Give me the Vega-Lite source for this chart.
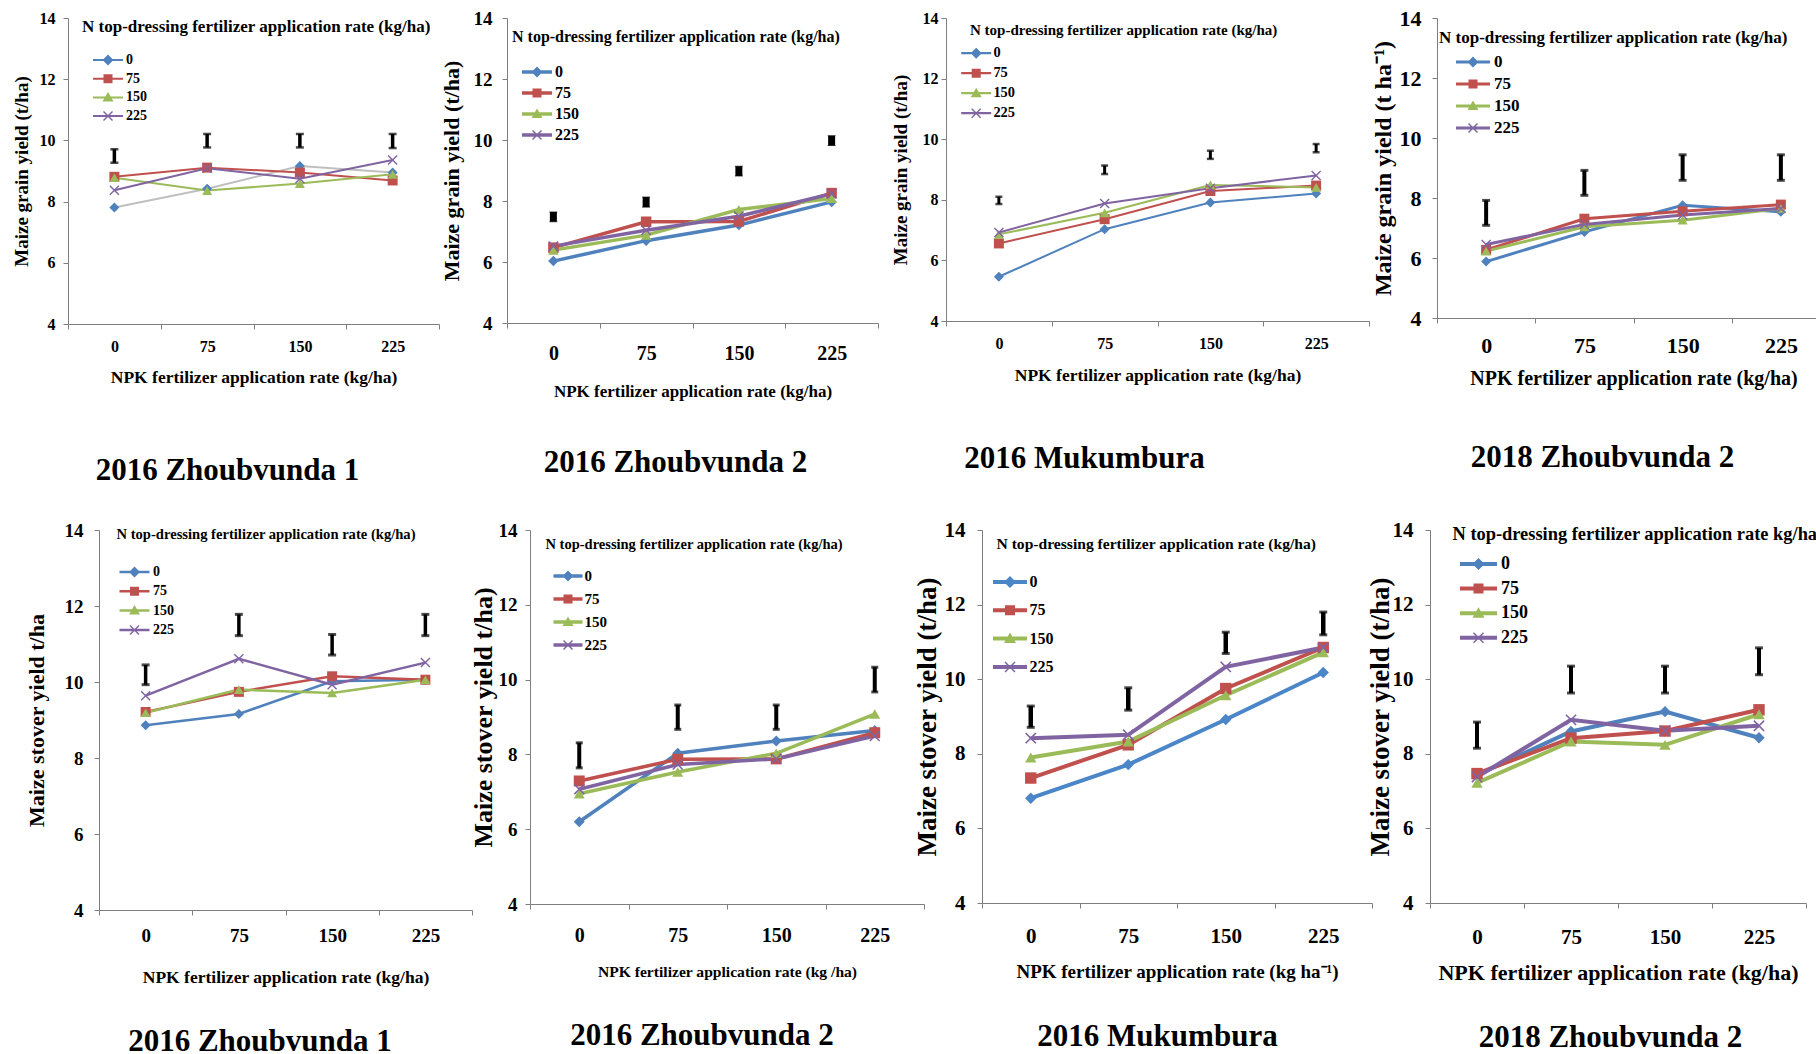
{
  "$schema": "https://vega.github.io/schema/vega-lite/v6.json",
  "background": "white",
  "padding": {"left": 12, "top": 7, "right": 0, "bottom": 0},
  "config": {
    "font": "Liberation Serif",
    "view": {"stroke": null},
    "axis": {"grid": false, "domainColor": "#7f7f7f", "tickColor": "#7f7f7f", "tickSize": 5, "labelColor": "#000", "titleColor": "#000", "labelFont": "Liberation Serif", "titleFont": "Liberation Serif", "labelFontWeight": "bold", "titleFontWeight": "bold", "labelOverlap": false},
    "legend": {"titleFont": "Liberation Serif", "labelFont": "Liberation Serif", "titleFontWeight": "bold", "labelFontWeight": "bold", "titleColor": "#000", "labelColor": "#000", "titleLimit": 1000, "labelLimit": 200, "symbolSize": 100, "symbolStrokeWidth": 0, "orient": "none", "direction": "vertical"},
    "title": {"font": "Liberation Serif", "fontWeight": "bold", "color": "#000", "orient": "bottom", "anchor": "middle"}
  },
  "datasets": {
    "g1": [
      {"npk": 0, "n": "0", "y": 7.81}, {"npk": 75, "n": "0", "y": 8.42}, {"npk": 150, "n": "0", "y": 9.16}, {"npk": 225, "n": "0", "y": 8.95},
      {"npk": 0, "n": "75", "y": 8.81}, {"npk": 75, "n": "75", "y": 9.11}, {"npk": 150, "n": "75", "y": 8.95}, {"npk": 225, "n": "75", "y": 8.69},
      {"npk": 0, "n": "150", "y": 8.78}, {"npk": 75, "n": "150", "y": 8.36}, {"npk": 150, "n": "150", "y": 8.59}, {"npk": 225, "n": "150", "y": 8.89},
      {"npk": 0, "n": "225", "y": 8.37}, {"npk": 75, "n": "225", "y": 9.09}, {"npk": 150, "n": "225", "y": 8.75}, {"npk": 225, "n": "225", "y": 9.36}
    ],
    "g1_lsd": [
      {"npk": 0, "lo": 9.27, "hi": 9.71}, {"npk": 75, "lo": 9.77, "hi": 10.21}, {"npk": 150, "lo": 9.77, "hi": 10.21}, {"npk": 225, "lo": 9.75, "hi": 10.21}
    ],
    "g2": [
      {"npk": 0, "n": "0", "y": 6.03}, {"npk": 75, "n": "0", "y": 6.70}, {"npk": 150, "n": "0", "y": 7.21}, {"npk": 225, "n": "0", "y": 7.97},
      {"npk": 0, "n": "75", "y": 6.47}, {"npk": 75, "n": "75", "y": 7.32}, {"npk": 150, "n": "75", "y": 7.33}, {"npk": 225, "n": "75", "y": 8.26},
      {"npk": 0, "n": "150", "y": 6.39}, {"npk": 75, "n": "150", "y": 6.88}, {"npk": 150, "n": "150", "y": 7.72}, {"npk": 225, "n": "150", "y": 8.08},
      {"npk": 0, "n": "225", "y": 6.52}, {"npk": 75, "n": "225", "y": 7.04}, {"npk": 150, "n": "225", "y": 7.50}, {"npk": 225, "n": "225", "y": 8.24}
    ],
    "g2_lsd": [
      {"npk": 0, "lo": 7.32, "hi": 7.64}, {"npk": 75, "lo": 7.80, "hi": 8.13}, {"npk": 150, "lo": 8.82, "hi": 9.14}, {"npk": 225, "lo": 9.82, "hi": 10.14}
    ],
    "g3": [
      {"npk": 0, "n": "0", "y": 5.46}, {"npk": 75, "n": "0", "y": 7.03}, {"npk": 150, "n": "0", "y": 7.91}, {"npk": 225, "n": "0", "y": 8.21},
      {"npk": 0, "n": "75", "y": 6.56}, {"npk": 75, "n": "75", "y": 7.36}, {"npk": 150, "n": "75", "y": 8.29}, {"npk": 225, "n": "75", "y": 8.47},
      {"npk": 0, "n": "150", "y": 6.86}, {"npk": 75, "n": "150", "y": 7.57}, {"npk": 150, "n": "150", "y": 8.49}, {"npk": 225, "n": "150", "y": 8.41},
      {"npk": 0, "n": "225", "y": 6.92}, {"npk": 75, "n": "225", "y": 7.88}, {"npk": 150, "n": "225", "y": 8.38}, {"npk": 225, "n": "225", "y": 8.80}
    ],
    "g3_lsd": [
      {"npk": 0, "lo": 7.86, "hi": 8.10}, {"npk": 75, "lo": 8.85, "hi": 9.13}, {"npk": 150, "lo": 9.35, "hi": 9.62}, {"npk": 225, "lo": 9.57, "hi": 9.84}
    ],
    "g4": [
      {"npk": 0, "n": "0", "y": 5.88}, {"npk": 75, "n": "0", "y": 6.87}, {"npk": 150, "n": "0", "y": 7.76}, {"npk": 225, "n": "0", "y": 7.54},
      {"npk": 0, "n": "75", "y": 6.27}, {"npk": 75, "n": "75", "y": 7.31}, {"npk": 150, "n": "75", "y": 7.56}, {"npk": 225, "n": "75", "y": 7.78},
      {"npk": 0, "n": "150", "y": 6.23}, {"npk": 75, "n": "150", "y": 7.04}, {"npk": 150, "n": "150", "y": 7.26}, {"npk": 225, "n": "150", "y": 7.65},
      {"npk": 0, "n": "225", "y": 6.45}, {"npk": 75, "n": "225", "y": 7.12}, {"npk": 150, "n": "225", "y": 7.43}, {"npk": 225, "n": "225", "y": 7.65}
    ],
    "g4_lsd": [
      {"npk": 0, "lo": 7.09, "hi": 7.92}, {"npk": 75, "lo": 8.09, "hi": 8.92}, {"npk": 150, "lo": 8.59, "hi": 9.44}, {"npk": 225, "lo": 8.59, "hi": 9.44}
    ],
    "s1": [
      {"npk": 0, "n": "0", "y": 8.86}, {"npk": 75, "n": "0", "y": 9.16}, {"npk": 150, "n": "0", "y": 10.02}, {"npk": 225, "n": "0", "y": 10.06},
      {"npk": 0, "n": "75", "y": 9.21}, {"npk": 75, "n": "75", "y": 9.74}, {"npk": 150, "n": "75", "y": 10.15}, {"npk": 225, "n": "75", "y": 10.06},
      {"npk": 0, "n": "150", "y": 9.19}, {"npk": 75, "n": "150", "y": 9.80}, {"npk": 150, "n": "150", "y": 9.71}, {"npk": 225, "n": "150", "y": 10.06},
      {"npk": 0, "n": "225", "y": 9.64}, {"npk": 75, "n": "225", "y": 10.61}, {"npk": 150, "n": "225", "y": 9.93}, {"npk": 225, "n": "225", "y": 10.51}
    ],
    "s1_lsd": [
      {"npk": 0, "lo": 9.93, "hi": 10.45}, {"npk": 75, "lo": 11.22, "hi": 11.78}, {"npk": 150, "lo": 10.71, "hi": 11.25}, {"npk": 225, "lo": 11.22, "hi": 11.78}
    ],
    "s2": [
      {"npk": 0, "n": "0", "y": 6.20}, {"npk": 75, "n": "0", "y": 8.03}, {"npk": 150, "n": "0", "y": 8.36}, {"npk": 225, "n": "0", "y": 8.64},
      {"npk": 0, "n": "75", "y": 7.29}, {"npk": 75, "n": "75", "y": 7.87}, {"npk": 150, "n": "75", "y": 7.88}, {"npk": 225, "n": "75", "y": 8.58},
      {"npk": 0, "n": "150", "y": 6.95}, {"npk": 75, "n": "150", "y": 7.53}, {"npk": 150, "n": "150", "y": 8.03}, {"npk": 225, "n": "150", "y": 9.08},
      {"npk": 0, "n": "225", "y": 7.07}, {"npk": 75, "n": "225", "y": 7.73}, {"npk": 150, "n": "225", "y": 7.88}, {"npk": 225, "n": "225", "y": 8.49}
    ],
    "s2_lsd": [
      {"npk": 0, "lo": 7.64, "hi": 8.31}, {"npk": 75, "lo": 8.67, "hi": 9.32}, {"npk": 150, "lo": 8.67, "hi": 9.32}, {"npk": 225, "lo": 9.67, "hi": 10.33}
    ],
    "s3": [
      {"npk": 0, "n": "0", "y": 6.81}, {"npk": 75, "n": "0", "y": 7.71}, {"npk": 150, "n": "0", "y": 8.92}, {"npk": 225, "n": "0", "y": 10.18},
      {"npk": 0, "n": "75", "y": 7.35}, {"npk": 75, "n": "75", "y": 8.24}, {"npk": 150, "n": "75", "y": 9.75}, {"npk": 225, "n": "75", "y": 10.85},
      {"npk": 0, "n": "150", "y": 7.90}, {"npk": 75, "n": "150", "y": 8.33}, {"npk": 150, "n": "150", "y": 9.57}, {"npk": 225, "n": "150", "y": 10.72},
      {"npk": 0, "n": "225", "y": 8.42}, {"npk": 75, "n": "225", "y": 8.51}, {"npk": 150, "n": "225", "y": 10.33}, {"npk": 225, "n": "225", "y": 10.85}
    ],
    "s3_lsd": [
      {"npk": 0, "lo": 8.71, "hi": 9.28}, {"npk": 75, "lo": 9.17, "hi": 9.77}, {"npk": 150, "lo": 10.69, "hi": 11.26}, {"npk": 225, "lo": 11.19, "hi": 11.80}
    ],
    "s4": [
      {"npk": 0, "n": "0", "y": 7.43}, {"npk": 75, "n": "0", "y": 8.60}, {"npk": 150, "n": "0", "y": 9.13}, {"npk": 225, "n": "0", "y": 8.43},
      {"npk": 0, "n": "75", "y": 7.47}, {"npk": 75, "n": "75", "y": 8.42}, {"npk": 150, "n": "75", "y": 8.61}, {"npk": 225, "n": "75", "y": 9.18},
      {"npk": 0, "n": "150", "y": 7.22}, {"npk": 75, "n": "150", "y": 8.33}, {"npk": 150, "n": "150", "y": 8.24}, {"npk": 225, "n": "150", "y": 9.06},
      {"npk": 0, "n": "225", "y": 7.38}, {"npk": 75, "n": "225", "y": 8.91}, {"npk": 150, "n": "225", "y": 8.62}, {"npk": 225, "n": "225", "y": 8.75}
    ],
    "s4_lsd": [
      {"npk": 0, "lo": 8.15, "hi": 8.85}, {"npk": 75, "lo": 9.63, "hi": 10.35}, {"npk": 150, "lo": 9.63, "hi": 10.35}, {"npk": 225, "lo": 10.12, "hi": 10.84}
    ]
  },
  "bounds": "full",
  "spacing": 33,
  "resolve": {"scale": {"color": "independent", "stroke": "independent", "fill": "independent", "shape": "independent"}},
  "vconcat": [
    {
      "bounds": "flush",
      "spacing": 68,
      "resolve": {"scale": {"color": "independent", "stroke": "independent", "fill": "independent", "shape": "independent"}},
      "hconcat": [
        {
          "width": 371, "height": 306,
          "title": {"text": "2016 Zhoubvunda 1", "fontSize": 31, "offset": 70, "dx": -26},
          "data": {"name": "g1"},
          "encoding": {
            "x": {"field": "npk", "type": "ordinal", "scale": {"type": "band", "paddingInner": 0, "paddingOuter": 0},
                  "axis": {"title": "NPK fertilizer application rate (kg/ha)", "labelAngle": 0, "tickBand": "extent", "labelFontSize": 16, "titleFontSize": 17.5, "labelPadding": 9, "titlePadding": 14}},
            "y": {"field": "y", "type": "quantitative", "scale": {"domain": [4, 14], "nice": false, "zero": false},
                  "axis": {"title": "Maize grain yield (t/ha)", "values": [4, 6, 8, 10, 12, 14], "labelFontSize": 16, "titleFontSize": 19, "labelPadding": 8, "titlePadding": 8}}
          },
          "layer": [
            {"mark": {"type": "line", "strokeWidth": 2},
             "encoding": {"stroke": {"field": "n", "type": "nominal", "scale": {"domain": ["0", "75", "150", "225"], "range": ["#BFBFBF", "#C0504D", "#9BBB59", "#8064A2"]}, "legend": null}}},
            {"mark": {"type": "point", "filled": true, "opacity": 1, "size": 100},
             "encoding": {
               "color": {"field": "n", "type": "nominal", "scale": {"domain": ["0", "75", "150", "225"], "range": ["#4F81BD", "#C0504D", "#9BBB59", "#8064A2"]}, "legend": null},
               "shape": {"field": "n", "type": "nominal", "scale": {"domain": ["0", "75", "150", "225"], "range": ["M0,-1L1,0L0,1L-1,0Z", "square", "triangle-up", "M-1,-0.8L-0.8,-1L0,-0.2L0.8,-1L1,-0.8L0.2,0L1,0.8L0.8,1L0,0.2L-0.8,1L-1,0.8L-0.2,0Z"]}, "legend": null}}},
            {"data": {"name": "g1_lsd"},
             "mark": {"type": "errorbar", "ticks": {"size": 8, "thickness": 2.5, "color": "#000"}, "rule": {"strokeWidth": 3.5, "color": "#000"}},
             "encoding": {"y": {"field": "lo", "type": "quantitative"}, "y2": {"field": "hi"}}},
            {"data": {"values": []},
             "mark": {"type": "point", "filled": true, "opacity": 1},
             "encoding": {
               "shape": {"field": "n", "type": "nominal", "scale": {"domain": ["0", "75", "150", "225"], "range": [
                 "M-3,-0.2L3,-0.2L3,0.2L-3,0.2ZM0,-1.1L1.1,0L0,1.1L-1.1,0Z",
                 "M-3,-0.2L3,-0.2L3,0.2L-3,0.2ZM-0.9,-0.9L0.9,-0.9L0.9,0.9L-0.9,0.9Z",
                 "M-3,-0.2L3,-0.2L3,0.2L-3,0.2ZM0,-1.1L1.1,0.8L-1.1,0.8Z",
                 "M-3,-0.2L3,-0.2L3,0.2L-3,0.2ZM-1,-0.8L-0.8,-1L0,-0.2L0.8,-1L1,-0.8L0.2,0L1,0.8L0.8,1L0,0.2L-0.8,1L-1,0.8L-0.2,0Z"]},
                 "legend": {"title": "N top-dressing fertilizer application rate (kg/ha)", "legendX": 14, "legendY": 1, "titleFontSize": 17, "labelFontSize": 14, "titlePadding": 17, "rowPadding": 4.7, "symbolOffset": 19, "labelOffset": 11}},
               "fill": {"field": "n", "type": "nominal", "scale": {"domain": ["0", "75", "150", "225"], "range": ["#4F81BD", "#C0504D", "#9BBB59", "#8064A2"]},
                 "legend": {"title": "N top-dressing fertilizer application rate (kg/ha)", "legendX": 14, "legendY": 1, "titleFontSize": 17, "labelFontSize": 14, "titlePadding": 17, "rowPadding": 4.7, "symbolOffset": 19, "labelOffset": 11}}}}
          ],
          "resolve": {"scale": {"shape": "independent", "fill": "independent"}}
        },
        {
          "width": 371, "height": 305,
          "title": {"text": "2016 Zhoubvunda 2", "fontSize": 31, "offset": 49, "dx": -17},
          "data": {"name": "g2"},
          "encoding": {
            "x": {"field": "npk", "type": "ordinal", "scale": {"type": "band", "paddingInner": 0, "paddingOuter": 0},
                  "axis": {"title": "NPK fertilizer application rate (kg/ha)", "labelAngle": 0, "tickBand": "extent", "labelFontSize": 20, "titleFontSize": 17, "labelPadding": 15, "titlePadding": 20}},
            "y": {"field": "y", "type": "quantitative", "scale": {"domain": [4, 14], "nice": false, "zero": false},
                  "axis": {"title": "Maize grain yield (t/ha)", "values": [4, 6, 8, 10, 12, 14], "labelFontSize": 19, "titleFontSize": 22, "labelPadding": 10, "titlePadding": 10}}
          },
          "layer": [
            {"mark": {"type": "line", "strokeWidth": 3.5},
             "encoding": {"stroke": {"field": "n", "type": "nominal", "scale": {"domain": ["0", "75", "150", "225"], "range": ["#4F81BD", "#C0504D", "#9BBB59", "#8064A2"]}, "legend": null}}},
            {"mark": {"type": "point", "filled": true, "opacity": 1, "size": 110},
             "encoding": {
               "color": {"field": "n", "type": "nominal", "scale": {"domain": ["0", "75", "150", "225"], "range": ["#4F81BD", "#C0504D", "#9BBB59", "#8064A2"]}, "legend": null},
               "shape": {"field": "n", "type": "nominal", "scale": {"domain": ["0", "75", "150", "225"], "range": ["M0,-1L1,0L0,1L-1,0Z", "square", "triangle-up", "M-1,-0.8L-0.8,-1L0,-0.2L0.8,-1L1,-0.8L0.2,0L1,0.8L0.8,1L0,0.2L-0.8,1L-1,0.8L-0.2,0Z"]}, "legend": null}}},
            {"data": {"name": "g2_lsd"},
             "mark": {"type": "errorbar", "ticks": {"size": 8, "thickness": 1, "color": "#000"}, "rule": {"strokeWidth": 7, "color": "#000"}},
             "encoding": {"y": {"field": "lo", "type": "quantitative"}, "y2": {"field": "hi"}}},
            {"data": {"values": []},
             "mark": {"type": "point", "filled": true, "opacity": 1},
             "encoding": {
               "shape": {"field": "n", "type": "nominal", "scale": {"domain": ["0", "75", "150", "225"], "range": [
                 "M-3,-0.35L3,-0.35L3,0.35L-3,0.35ZM0,-1.1L1.1,0L0,1.1L-1.1,0Z",
                 "M-3,-0.35L3,-0.35L3,0.35L-3,0.35ZM-0.9,-0.9L0.9,-0.9L0.9,0.9L-0.9,0.9Z",
                 "M-3,-0.35L3,-0.35L3,0.35L-3,0.35ZM0,-1.1L1.1,0.8L-1.1,0.8Z",
                 "M-3,-0.35L3,-0.35L3,0.35L-3,0.35ZM-1,-0.8L-0.8,-1L0,-0.2L0.8,-1L1,-0.8L0.2,0L1,0.8L0.8,1L0,0.2L-0.8,1L-1,0.8L-0.2,0Z"]},
                 "legend": {"title": "N top-dressing fertilizer application rate (kg/ha)", "legendX": 5, "legendY": 11, "titleFontSize": 16, "labelFontSize": 16, "titlePadding": 19, "rowPadding": 5, "symbolOffset": 17, "labelOffset": 10}},
               "fill": {"field": "n", "type": "nominal", "scale": {"domain": ["0", "75", "150", "225"], "range": ["#4F81BD", "#C0504D", "#9BBB59", "#8064A2"]},
                 "legend": {"title": "N top-dressing fertilizer application rate (kg/ha)", "legendX": 5, "legendY": 11, "titleFontSize": 16, "labelFontSize": 16, "titlePadding": 19, "rowPadding": 5, "symbolOffset": 17, "labelOffset": 10}}}}
          ],
          "resolve": {"scale": {"shape": "independent", "fill": "independent"}}
        },
        {
          "width": 423, "height": 303,
          "title": {"text": "2016 Mukumbura", "fontSize": 31, "offset": 60, "dx": -73},
          "data": {"name": "g3"},
          "encoding": {
            "x": {"field": "npk", "type": "ordinal", "scale": {"type": "band", "paddingInner": 0, "paddingOuter": 0},
                  "axis": {"title": "NPK fertilizer application rate (kg/ha)", "labelAngle": 0, "tickBand": "extent", "labelFontSize": 16, "titleFontSize": 17.5, "labelPadding": 9, "titlePadding": 15}},
            "y": {"field": "y", "type": "quantitative", "scale": {"domain": [4, 14], "nice": false, "zero": false},
                  "axis": {"title": "Maize grain yield (t/ha)", "values": [4, 6, 8, 10, 12, 14], "labelFontSize": 16, "titleFontSize": 19, "labelPadding": 3, "titlePadding": 12}}
          },
          "layer": [
            {"mark": {"type": "line", "strokeWidth": 2},
             "encoding": {"stroke": {"field": "n", "type": "nominal", "scale": {"domain": ["0", "75", "150", "225"], "range": ["#4F81BD", "#C0504D", "#9BBB59", "#8064A2"]}, "legend": null}}},
            {"mark": {"type": "point", "filled": true, "opacity": 1, "size": 100},
             "encoding": {
               "color": {"field": "n", "type": "nominal", "scale": {"domain": ["0", "75", "150", "225"], "range": ["#4F81BD", "#C0504D", "#9BBB59", "#8064A2"]}, "legend": null},
               "shape": {"field": "n", "type": "nominal", "scale": {"domain": ["0", "75", "150", "225"], "range": ["M0,-1L1,0L0,1L-1,0Z", "square", "triangle-up", "M-1,-0.8L-0.8,-1L0,-0.2L0.8,-1L1,-0.8L0.2,0L1,0.8L0.8,1L0,0.2L-0.8,1L-1,0.8L-0.2,0Z"]}, "legend": null}}},
            {"data": {"name": "g3_lsd"},
             "mark": {"type": "errorbar", "ticks": {"size": 7, "thickness": 2.5, "color": "#000"}, "rule": {"strokeWidth": 3, "color": "#000"}},
             "encoding": {"y": {"field": "lo", "type": "quantitative"}, "y2": {"field": "hi"}}},
            {"data": {"values": []},
             "mark": {"type": "point", "filled": true, "opacity": 1},
             "encoding": {
               "shape": {"field": "n", "type": "nominal", "scale": {"domain": ["0", "75", "150", "225"], "range": [
                 "M-3,-0.22L3,-0.22L3,0.22L-3,0.22ZM0,-1.1L1.1,0L0,1.1L-1.1,0Z",
                 "M-3,-0.22L3,-0.22L3,0.22L-3,0.22ZM-0.9,-0.9L0.9,-0.9L0.9,0.9L-0.9,0.9Z",
                 "M-3,-0.22L3,-0.22L3,0.22L-3,0.22ZM0,-1.1L1.1,0.8L-1.1,0.8Z",
                 "M-3,-0.22L3,-0.22L3,0.22L-3,0.22ZM-1,-0.8L-0.8,-1L0,-0.2L0.8,-1L1,-0.8L0.2,0L1,0.8L0.8,1L0,0.2L-0.8,1L-1,0.8L-0.2,0Z"]},
                 "legend": {"title": "N top-dressing fertilizer application rate (kg/ha)", "legendX": 24, "legendY": 5, "titleFontSize": 15, "labelFontSize": 14.4, "titlePadding": 8, "rowPadding": 5, "symbolOffset": -1, "labelOffset": 10}},
               "fill": {"field": "n", "type": "nominal", "scale": {"domain": ["0", "75", "150", "225"], "range": ["#4F81BD", "#C0504D", "#9BBB59", "#8064A2"]},
                 "legend": {"title": "N top-dressing fertilizer application rate (kg/ha)", "legendX": 24, "legendY": 5, "titleFontSize": 15, "labelFontSize": 14.4, "titlePadding": 8, "rowPadding": 5, "symbolOffset": -1, "labelOffset": 10}}}}
          ],
          "resolve": {"scale": {"shape": "independent", "fill": "independent"}}
        },
        {
          "width": 393, "height": 300,
          "title": {"text": "2018 Zhoubvunda 2", "fontSize": 31, "offset": 55, "dx": -31},
          "data": {"name": "g4"},
          "encoding": {
            "x": {"field": "npk", "type": "ordinal", "scale": {"type": "band", "paddingInner": 0, "paddingOuter": 0},
                  "axis": {"title": "NPK fertilizer application rate (kg/ha)", "labelAngle": 0, "tickBand": "extent", "labelFontSize": 22, "titleFontSize": 20, "labelPadding": 12, "titlePadding": 12}},
            "y": {"field": "y", "type": "quantitative", "scale": {"domain": [4, 14], "nice": false, "zero": false},
                  "axis": {"title": "Maize grain yield (t ha⁻¹)", "values": [4, 6, 8, 10, 12, 14], "labelFontSize": 22, "titleFontSize": 24, "labelPadding": 11, "titlePadding": 4}}
          },
          "layer": [
            {"mark": {"type": "line", "strokeWidth": 3},
             "encoding": {"stroke": {"field": "n", "type": "nominal", "scale": {"domain": ["0", "75", "150", "225"], "range": ["#4F81BD", "#C0504D", "#9BBB59", "#8064A2"]}, "legend": null}}},
            {"mark": {"type": "point", "filled": true, "opacity": 1, "size": 100},
             "encoding": {
               "color": {"field": "n", "type": "nominal", "scale": {"domain": ["0", "75", "150", "225"], "range": ["#4F81BD", "#C0504D", "#9BBB59", "#8064A2"]}, "legend": null},
               "shape": {"field": "n", "type": "nominal", "scale": {"domain": ["0", "75", "150", "225"], "range": ["M0,-1L1,0L0,1L-1,0Z", "square", "triangle-up", "M-1,-0.8L-0.8,-1L0,-0.2L0.8,-1L1,-0.8L0.2,0L1,0.8L0.8,1L0,0.2L-0.8,1L-1,0.8L-0.2,0Z"]}, "legend": null}}},
            {"data": {"name": "g4_lsd"},
             "mark": {"type": "errorbar", "ticks": {"size": 8, "thickness": 3, "color": "#000"}, "rule": {"strokeWidth": 4, "color": "#000"}},
             "encoding": {"y": {"field": "lo", "type": "quantitative"}, "y2": {"field": "hi"}}},
            {"data": {"values": []},
             "mark": {"type": "point", "filled": true, "opacity": 1},
             "encoding": {
               "shape": {"field": "n", "type": "nominal", "scale": {"domain": ["0", "75", "150", "225"], "range": [
                 "M-3.4,-0.3L3.4,-0.3L3.4,0.3L-3.4,0.3ZM0,-1.1L1.1,0L0,1.1L-1.1,0Z",
                 "M-3.4,-0.3L3.4,-0.3L3.4,0.3L-3.4,0.3ZM-0.9,-0.9L0.9,-0.9L0.9,0.9L-0.9,0.9Z",
                 "M-3.4,-0.3L3.4,-0.3L3.4,0.3L-3.4,0.3ZM0,-1.1L1.1,0.8L-1.1,0.8Z",
                 "M-3.4,-0.3L3.4,-0.3L3.4,0.3L-3.4,0.3ZM-1,-0.8L-0.8,-1L0,-0.2L0.8,-1L1,-0.8L0.2,0L1,0.8L0.8,1L0,0.2L-0.8,1L-1,0.8L-0.2,0Z"]},
                 "legend": {"title": "N top-dressing fertilizer application rate (kg/ha)", "legendX": 2, "legendY": 12, "titleFontSize": 17, "labelFontSize": 17, "titlePadding": 6.5, "rowPadding": 4, "symbolOffset": 25.5, "labelOffset": 12.5}},
               "fill": {"field": "n", "type": "nominal", "scale": {"domain": ["0", "75", "150", "225"], "range": ["#4F81BD", "#C0504D", "#9BBB59", "#8064A2"]},
                 "legend": {"title": "N top-dressing fertilizer application rate (kg/ha)", "legendX": 2, "legendY": 12, "titleFontSize": 17, "labelFontSize": 17, "titlePadding": 6.5, "rowPadding": 4, "symbolOffset": 25.5, "labelOffset": 12.5}}}}
          ],
          "resolve": {"scale": {"shape": "independent", "fill": "independent"}}
        }
      ]
    },
    {
      "bounds": "flush",
      "spacing": 10,
      "resolve": {"scale": {"color": "independent", "stroke": "independent", "fill": "independent", "shape": "independent"}},
      "hconcat": [
        {
          "width": 21, "height": 10,
          "data": {"values": []},
          "mark": {"type": "point"},
          "encoding": {}
        },
        {
          "bounds": "flush",
          "spacing": 58,
          "resolve": {"scale": {"color": "independent", "stroke": "independent", "fill": "independent", "shape": "independent"}},
          "hconcat": [
            {
              "width": 373, "height": 380,
              "title": {"text": "2016 Zhoubvunda 1", "fontSize": 31, "offset": 41, "dx": -25.5},
              "data": {"name": "s1"},
              "encoding": {
                "x": {"field": "npk", "type": "ordinal", "scale": {"type": "band", "paddingInner": 0, "paddingOuter": 0},
                      "axis": {"title": "NPK fertilizer application rate (kg/ha)", "labelAngle": 0, "tickBand": "extent", "labelFontSize": 19, "titleFontSize": 17.5, "labelPadding": 11, "titlePadding": 23}},
                "y": {"field": "y", "type": "quantitative", "scale": {"domain": [4, 14], "nice": false, "zero": false},
                      "axis": {"title": "Maize stover yield t/ha", "values": [4, 6, 8, 10, 12, 14], "labelFontSize": 19, "titleFontSize": 22, "labelPadding": 11, "titlePadding": 16}}
              },
              "layer": [
                {"mark": {"type": "line", "strokeWidth": 2.5},
                 "encoding": {"stroke": {"field": "n", "type": "nominal", "scale": {"domain": ["0", "75", "150", "225"], "range": ["#4F81BD", "#C0504D", "#9BBB59", "#8064A2"]}, "legend": null}}},
                {"mark": {"type": "point", "filled": true, "opacity": 1, "size": 100},
                 "encoding": {
                   "color": {"field": "n", "type": "nominal", "scale": {"domain": ["0", "75", "150", "225"], "range": ["#4F81BD", "#C0504D", "#9BBB59", "#8064A2"]}, "legend": null},
                   "shape": {"field": "n", "type": "nominal", "scale": {"domain": ["0", "75", "150", "225"], "range": ["M0,-1L1,0L0,1L-1,0Z", "square", "triangle-up", "M-1,-0.8L-0.8,-1L0,-0.2L0.8,-1L1,-0.8L0.2,0L1,0.8L0.8,1L0,0.2L-0.8,1L-1,0.8L-0.2,0Z"]}, "legend": null}}},
                {"data": {"name": "s1_lsd"},
                 "mark": {"type": "errorbar", "ticks": {"size": 8, "thickness": 3, "color": "#000"}, "rule": {"strokeWidth": 3.5, "color": "#000"}},
                 "encoding": {"y": {"field": "lo", "type": "quantitative"}, "y2": {"field": "hi"}}},
                {"data": {"values": []},
                 "mark": {"type": "point", "filled": true, "opacity": 1},
                 "encoding": {
                   "shape": {"field": "n", "type": "nominal", "scale": {"domain": ["0", "75", "150", "225"], "range": [
                     "M-3,-0.25L3,-0.25L3,0.25L-3,0.25ZM0,-1.1L1.1,0L0,1.1L-1.1,0Z",
                     "M-3,-0.25L3,-0.25L3,0.25L-3,0.25ZM-0.9,-0.9L0.9,-0.9L0.9,0.9L-0.9,0.9Z",
                     "M-3,-0.25L3,-0.25L3,0.25L-3,0.25ZM0,-1.1L1.1,0.8L-1.1,0.8Z",
                     "M-3,-0.25L3,-0.25L3,0.25L-3,0.25ZM-1,-0.8L-0.8,-1L0,-0.2L0.8,-1L1,-0.8L0.2,0L1,0.8L0.8,1L0,0.2L-0.8,1L-1,0.8L-0.2,0Z"]},
                     "legend": {"title": "N top-dressing fertilizer application rate (kg/ha)", "legendX": 17.5, "legendY": -3, "titleFontSize": 14.6, "labelFontSize": 14, "titlePadding": 23.4, "rowPadding": 5.3, "symbolOffset": 11, "labelOffset": 11.5}},
                   "fill": {"field": "n", "type": "nominal", "scale": {"domain": ["0", "75", "150", "225"], "range": ["#4F81BD", "#C0504D", "#9BBB59", "#8064A2"]},
                     "legend": {"title": "N top-dressing fertilizer application rate (kg/ha)", "legendX": 17.5, "legendY": -3, "titleFontSize": 14.6, "labelFontSize": 14, "titlePadding": 23.4, "rowPadding": 5.3, "symbolOffset": 11, "labelOffset": 11.5}}}}
              ],
              "resolve": {"scale": {"shape": "independent", "fill": "independent"}}
            },
            {
              "width": 394, "height": 374,
              "title": {"text": "2016 Zhoubvunda 2", "fontSize": 31, "offset": 41, "dx": -25},
              "data": {"name": "s2"},
              "encoding": {
                "x": {"field": "npk", "type": "ordinal", "scale": {"type": "band", "paddingInner": 0, "paddingOuter": 0},
                      "axis": {"title": "NPK fertilizer application rate (kg /ha)", "labelAngle": 0, "tickBand": "extent", "labelFontSize": 20, "titleFontSize": 15.6, "labelPadding": 16, "titlePadding": 19}},
                "y": {"field": "y", "type": "quantitative", "scale": {"domain": [4, 14], "nice": false, "zero": false},
                      "axis": {"title": "Maize stover yield t/ha)", "values": [4, 6, 8, 10, 12, 14], "labelFontSize": 19, "titleFontSize": 26, "labelPadding": 8, "titlePadding": 2}}
              },
              "layer": [
                {"mark": {"type": "line", "strokeWidth": 3.5},
                 "encoding": {"stroke": {"field": "n", "type": "nominal", "scale": {"domain": ["0", "75", "150", "225"], "range": ["#4F81BD", "#C0504D", "#9BBB59", "#8064A2"]}, "legend": null}}},
                {"mark": {"type": "point", "filled": true, "opacity": 1, "size": 120},
                 "encoding": {
                   "color": {"field": "n", "type": "nominal", "scale": {"domain": ["0", "75", "150", "225"], "range": ["#4F81BD", "#C0504D", "#9BBB59", "#8064A2"]}, "legend": null},
                   "shape": {"field": "n", "type": "nominal", "scale": {"domain": ["0", "75", "150", "225"], "range": ["M0,-1L1,0L0,1L-1,0Z", "square", "triangle-up", "M-1,-0.8L-0.8,-1L0,-0.2L0.8,-1L1,-0.8L0.2,0L1,0.8L0.8,1L0,0.2L-0.8,1L-1,0.8L-0.2,0Z"]}, "legend": null}}},
                {"data": {"name": "s2_lsd"},
                 "mark": {"type": "errorbar", "ticks": {"size": 7, "thickness": 3, "color": "#000"}, "rule": {"strokeWidth": 4, "color": "#000"}},
                 "encoding": {"y": {"field": "lo", "type": "quantitative"}, "y2": {"field": "hi"}}},
                {"data": {"values": []},
                 "mark": {"type": "point", "filled": true, "opacity": 1},
                 "encoding": {
                   "shape": {"field": "n", "type": "nominal", "scale": {"domain": ["0", "75", "150", "225"], "range": [
                     "M-2.9,-0.35L2.9,-0.35L2.9,0.35L-2.9,0.35ZM0,-1.1L1.1,0L0,1.1L-1.1,0Z",
                     "M-2.9,-0.35L2.9,-0.35L2.9,0.35L-2.9,0.35ZM-0.9,-0.9L0.9,-0.9L0.9,0.9L-0.9,0.9Z",
                     "M-2.9,-0.35L2.9,-0.35L2.9,0.35L-2.9,0.35ZM0,-1.1L1.1,0.8L-1.1,0.8Z",
                     "M-2.9,-0.35L2.9,-0.35L2.9,0.35L-2.9,0.35ZM-1,-0.8L-0.8,-1L0,-0.2L0.8,-1L1,-0.8L0.2,0L1,0.8L0.8,1L0,0.2L-0.8,1L-1,0.8L-0.2,0Z"]},
                     "legend": {"title": "N top-dressing fertilizer application rate (kg/ha)", "legendX": 15.5, "legendY": 8, "titleFontSize": 14.5, "labelFontSize": 15, "titlePadding": 16, "rowPadding": 7, "symbolOffset": 15, "labelOffset": 9}},
                   "fill": {"field": "n", "type": "nominal", "scale": {"domain": ["0", "75", "150", "225"], "range": ["#4F81BD", "#C0504D", "#9BBB59", "#8064A2"]},
                     "legend": {"title": "N top-dressing fertilizer application rate (kg/ha)", "legendX": 15.5, "legendY": 8, "titleFontSize": 14.5, "labelFontSize": 15, "titlePadding": 16, "rowPadding": 7, "symbolOffset": 15, "labelOffset": 9}}}}
              ],
              "resolve": {"scale": {"shape": "independent", "fill": "independent"}}
            },
            {
              "width": 390, "height": 373,
              "title": {"text": "2016 Mukumbura", "fontSize": 31, "offset": 41, "dx": -19.5},
              "data": {"name": "s3"},
              "encoding": {
                "x": {"field": "npk", "type": "ordinal", "scale": {"type": "band", "paddingInner": 0, "paddingOuter": 0},
                      "axis": {"title": "NPK fertilizer application rate (kg ha⁻¹)", "labelAngle": 0, "tickBand": "extent", "labelFontSize": 21, "titleFontSize": 19, "labelPadding": 17, "titlePadding": 16}},
                "y": {"field": "y", "type": "quantitative", "scale": {"domain": [4, 14], "nice": false, "zero": false},
                      "axis": {"title": "Maize stover yield (t/ha)", "values": [4, 6, 8, 10, 12, 14], "labelFontSize": 21, "titleFontSize": 27, "labelPadding": 12, "titlePadding": 3}}
              },
              "layer": [
                {"mark": {"type": "line", "strokeWidth": 4},
                 "encoding": {"stroke": {"field": "n", "type": "nominal", "scale": {"domain": ["0", "75", "150", "225"], "range": ["#4A86C8", "#C0504D", "#9BBB59", "#8064A2"]}, "legend": null}}},
                {"mark": {"type": "point", "filled": true, "opacity": 1, "size": 130},
                 "encoding": {
                   "color": {"field": "n", "type": "nominal", "scale": {"domain": ["0", "75", "150", "225"], "range": ["#4A86C8", "#C0504D", "#9BBB59", "#8064A2"]}, "legend": null},
                   "shape": {"field": "n", "type": "nominal", "scale": {"domain": ["0", "75", "150", "225"], "range": ["M0,-1L1,0L0,1L-1,0Z", "square", "triangle-up", "M-1,-0.8L-0.8,-1L0,-0.2L0.8,-1L1,-0.8L0.2,0L1,0.8L0.8,1L0,0.2L-0.8,1L-1,0.8L-0.2,0Z"]}, "legend": null}}},
                {"data": {"name": "s3_lsd"},
                 "mark": {"type": "errorbar", "ticks": {"size": 8, "thickness": 3, "color": "#000"}, "rule": {"strokeWidth": 4.5, "color": "#000"}},
                 "encoding": {"y": {"field": "lo", "type": "quantitative"}, "y2": {"field": "hi"}}},
                {"data": {"values": []},
                 "mark": {"type": "point", "filled": true, "opacity": 1},
                 "encoding": {
                   "shape": {"field": "n", "type": "nominal", "scale": {"domain": ["0", "75", "150", "225"], "range": [
                     "M-3.4,-0.4L3.4,-0.4L3.4,0.4L-3.4,0.4ZM0,-1.2L1.2,0L0,1.2L-1.2,0Z",
                     "M-3.4,-0.4L3.4,-0.4L3.4,0.4L-3.4,0.4ZM-1,-1L1,-1L1,1L-1,1Z",
                     "M-3.4,-0.4L3.4,-0.4L3.4,0.4L-3.4,0.4ZM0,-1.2L1.2,0.9L-1.2,0.9Z",
                     "M-3.4,-0.4L3.4,-0.4L3.4,0.4L-3.4,0.4ZM-1.1,-0.9L-0.9,-1.1L0,-0.2L0.9,-1.1L1.1,-0.9L0.2,0L1.1,0.9L0.9,1.1L0,0.2L-0.9,1.1L-1.1,0.9L-0.2,0Z"]},
                     "legend": {"title": "N top-dressing fertilizer application rate (kg/ha)", "legendX": 14.5, "legendY": 7, "titleFontSize": 15.6, "labelFontSize": 16, "titlePadding": 21.4, "rowPadding": 12.3, "symbolOffset": 5.5, "labelOffset": 11.5}},
                   "fill": {"field": "n", "type": "nominal", "scale": {"domain": ["0", "75", "150", "225"], "range": ["#4A86C8", "#C0504D", "#9BBB59", "#8064A2"]},
                     "legend": {"title": "N top-dressing fertilizer application rate (kg/ha)", "legendX": 14.5, "legendY": 7, "titleFontSize": 15.6, "labelFontSize": 16, "titlePadding": 21.4, "rowPadding": 12.3, "symbolOffset": 5.5, "labelOffset": 11.5}}}}
              ],
              "resolve": {"scale": {"shape": "independent", "fill": "independent"}}
            },
            {
              "width": 376, "height": 373,
              "title": {"text": "2018 Zhoubvunda 2", "fontSize": 31, "offset": 40, "dx": -7.5},
              "data": {"name": "s4"},
              "encoding": {
                "x": {"field": "npk", "type": "ordinal", "scale": {"type": "band", "paddingInner": 0, "paddingOuter": 0},
                      "axis": {"title": "NPK fertilizer application rate (kg/ha)", "labelAngle": 0, "tickBand": "extent", "labelFontSize": 21, "titleFontSize": 22, "labelPadding": 18, "titlePadding": 15}},
                "y": {"field": "y", "type": "quantitative", "scale": {"domain": [4, 14], "nice": false, "zero": false},
                      "axis": {"title": "Maize stover yield (t/ha)", "values": [4, 6, 8, 10, 12, 14], "labelFontSize": 21, "titleFontSize": 27, "labelPadding": 12, "titlePadding": -2}}
              },
              "layer": [
                {"mark": {"type": "line", "strokeWidth": 4},
                 "encoding": {"stroke": {"field": "n", "type": "nominal", "scale": {"domain": ["0", "75", "150", "225"], "range": ["#4F81BD", "#C0504D", "#9BBB59", "#8064A2"]}, "legend": null}}},
                {"mark": {"type": "point", "filled": true, "opacity": 1, "size": 130},
                 "encoding": {
                   "color": {"field": "n", "type": "nominal", "scale": {"domain": ["0", "75", "150", "225"], "range": ["#4F81BD", "#C0504D", "#9BBB59", "#8064A2"]}, "legend": null},
                   "shape": {"field": "n", "type": "nominal", "scale": {"domain": ["0", "75", "150", "225"], "range": ["M0,-1L1,0L0,1L-1,0Z", "square", "triangle-up", "M-1,-0.8L-0.8,-1L0,-0.2L0.8,-1L1,-0.8L0.2,0L1,0.8L0.8,1L0,0.2L-0.8,1L-1,0.8L-0.2,0Z"]}, "legend": null}}},
                {"data": {"name": "s4_lsd"},
                 "mark": {"type": "errorbar", "ticks": {"size": 8, "thickness": 3, "color": "#000"}, "rule": {"strokeWidth": 4, "color": "#000"}},
                 "encoding": {"y": {"field": "lo", "type": "quantitative"}, "y2": {"field": "hi"}}},
                {"data": {"values": []},
                 "mark": {"type": "point", "filled": true, "opacity": 1},
                 "encoding": {
                   "shape": {"field": "n", "type": "nominal", "scale": {"domain": ["0", "75", "150", "225"], "range": [
                     "M-3.7,-0.4L3.7,-0.4L3.7,0.4L-3.7,0.4ZM0,-1.2L1.2,0L0,1.2L-1.2,0Z",
                     "M-3.7,-0.4L3.7,-0.4L3.7,0.4L-3.7,0.4ZM-1,-1L1,-1L1,1L-1,1Z",
                     "M-3.7,-0.4L3.7,-0.4L3.7,0.4L-3.7,0.4ZM0,-1.2L1.2,0.9L-1.2,0.9Z",
                     "M-3.7,-0.4L3.7,-0.4L3.7,0.4L-3.7,0.4ZM-1.1,-0.9L-0.9,-1.1L0,-0.2L0.9,-1.1L1.1,-0.9L0.2,0L1.1,0.9L0.9,1.1L0,0.2L-0.9,1.1L-1.1,0.9L-0.2,0Z"]},
                     "legend": {"title": "N top-dressing fertilizer application rate kg/ha", "legendX": 22.5, "legendY": -5, "titleFontSize": 18.4, "labelFontSize": 18, "titlePadding": 11.6, "rowPadding": 6.6, "symbolOffset": 17, "labelOffset": 13.5}},
                   "fill": {"field": "n", "type": "nominal", "scale": {"domain": ["0", "75", "150", "225"], "range": ["#4F81BD", "#C0504D", "#9BBB59", "#8064A2"]},
                     "legend": {"title": "N top-dressing fertilizer application rate kg/ha", "legendX": 22.5, "legendY": -5, "titleFontSize": 18.4, "labelFontSize": 18, "titlePadding": 11.6, "rowPadding": 6.6, "symbolOffset": 17, "labelOffset": 13.5}}}}
              ],
              "resolve": {"scale": {"shape": "independent", "fill": "independent"}}
            }
          ]
        }
      ]
    }
  ]
}
